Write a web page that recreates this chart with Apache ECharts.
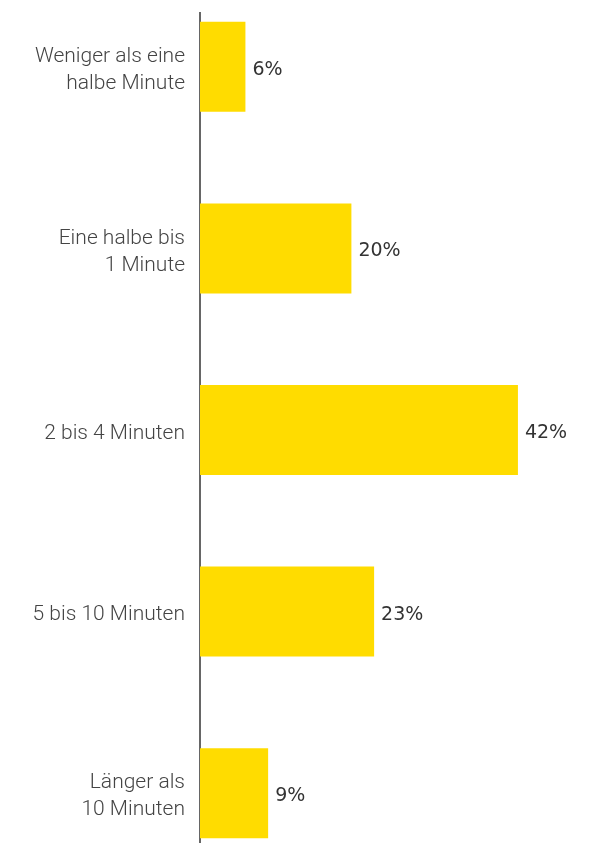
<!DOCTYPE html>
<html>
<head>
<meta charset="utf-8">
<script src="https://cdn.jsdelivr.net/npm/echarts@6/dist/echarts.min.js"></script>
<style>
    html, body { margin: 0; padding: 0; background: #fff; }
    #chart { width: 601px; height: 843px; }
</style>
</head>
<body>
<div id="chart"></div>
<script>
const categories = [
    'Weniger als eine\nhalbe Minute',
    'Eine halbe bis\n1 Minute',
    '2 bis 4 Minuten',
    '5 bis 10 Minuten',
    'Länger als\n10 Minuten'
];
const shares = [6, 20, 42, 23, 9];

const gridLeft = 200;
let chart = echarts.init(document.getElementById('chart'), null, { renderer: 'canvas' });

let option = {
    animation: false,
    grid: {
        left: gridLeft,
        right: 22.5,
        top: -24,
        bottom: -41,
        outerBoundsMode: 'none',
        containLabel: false
    },
    xAxis: {
        type: 'value',
        min: 0,
        max: 50,
        show: false
    },
    yAxis: {
        type: 'category',
        inverse: true,
        data: categories,
        axisLine: { show: false },
        axisTick: { show: false },
        axisLabel: {
            margin: 15,
            color: '#444',
            fontSize: 21,
            fontWeight: 300,
            lineHeight: 27,
            fontFamily: 'Roboto, sans-serif',
            align: 'right',
            // small empty first line pushes the text block a little down
            formatter: function (value) {
                return '{p| }\n' + value;
            },
            rich: {
                p: { fontSize: 1, lineHeight: 7 }
            }
        }
    },
    series: [
        {
            type: 'bar',
            data: shares,
            barWidth: 90,
            itemStyle: { color: '#FFDC00' },
            label: {
                show: true,
                position: 'right',
                distance: 7,
                offset: [0, 3],
                formatter: '{c}%',
                color: '#333',
                fontSize: 19,
                fontFamily: '"DejaVu Sans", sans-serif'
            }
        }
    ],
    graphic: [
        {
            type: 'line',
            shape: { x1: gridLeft, y1: 12, x2: gridLeft, y2: 843 },
            style: { stroke: '#333', lineWidth: 1.5 }
        }
    ]
};

chart.setOption(option);
</script>
</body>
</html>
